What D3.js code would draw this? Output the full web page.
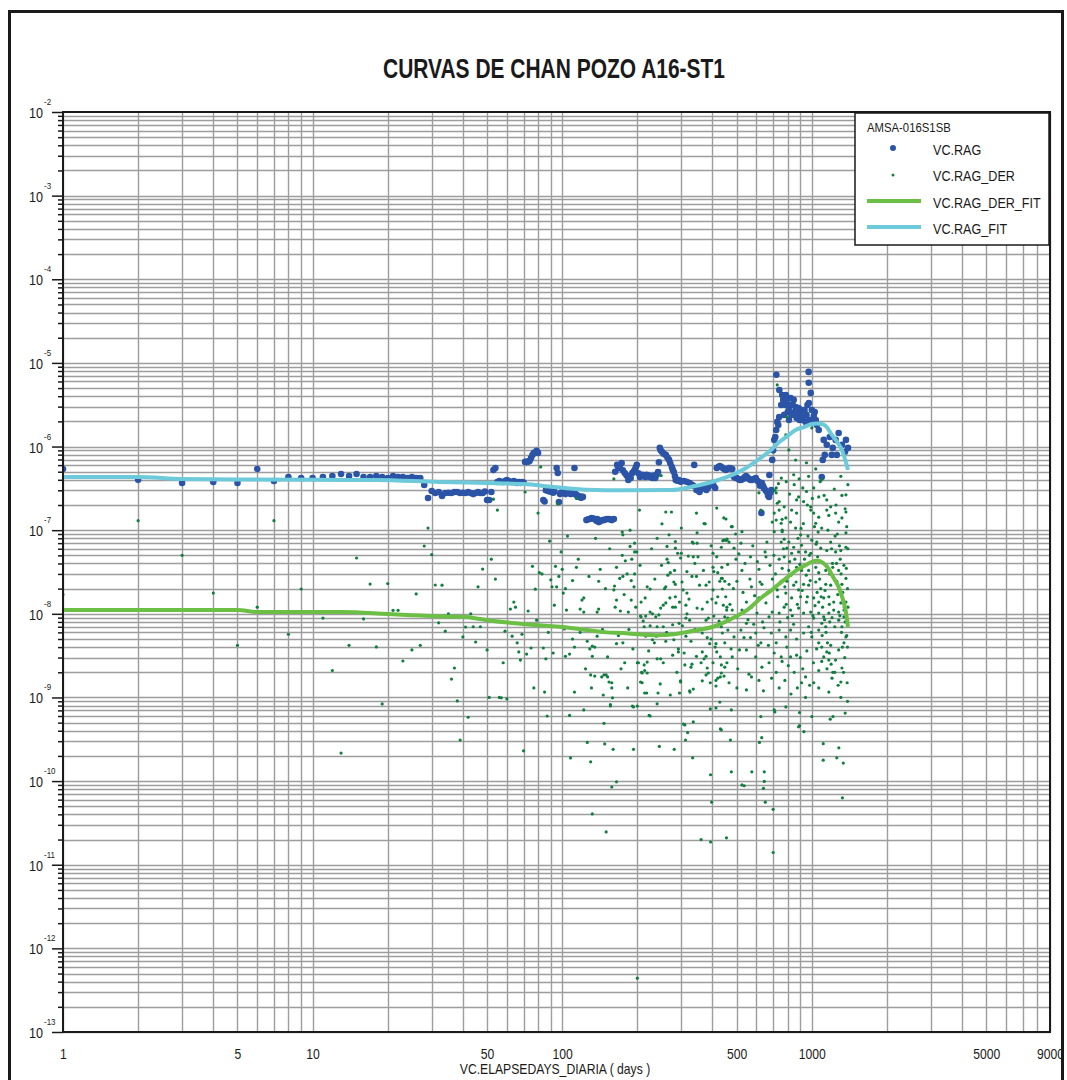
<!DOCTYPE html>
<html>
<head>
<meta charset="utf-8">
<script src="https://cdn.jsdelivr.net/npm/d3@7"></script>
<style>
  html, body { margin: 0; padding: 0; background: #ffffff; }
  svg { display: block; }
  text { font-family: "Liberation Sans", Arial, sans-serif; fill: #1a1a1a; }
</style>
</head>
<body>
<svg id="chart" width="1067" height="1080"></svg>
<script>
// ---- Labels ----
const chartTitle = "CURVAS DE CHAN POZO A16-ST1";
const xAxisTitle = "VC.ELAPSEDAYS_DIARIA ( days )";
const legendTitle = "AMSA-016S1SB";
const seriesNames = ["VC.RAG", "VC.RAG_DER", "VC.RAG_DER_FIT", "VC.RAG_FIT"];
const xTickValues = [1, 5, 10, 50, 100, 500, 1000, 5000, 9000];
const yTickExponents = [-2, -3, -4, -5, -6, -7, -8, -9, -10, -11, -12, -13];

// ---- VC.RAG : [elapsed days, RAG] ----
const ragPoints = [
[1,5.4e-7],[2,4.0e-7],[3,3.67e-7],[4,3.77e-7],[5,3.67e-7],[6,5.4e-7],[7,3.88e-7],[8,4.33e-7],[9,4.21e-7],[10,4.21e-7],
[11,4.33e-7],[12,4.45e-7],[13,4.7e-7],[14,4.45e-7],[15,4.7e-7],[16,4.33e-7],[17,4.33e-7],[18,4.45e-7],[19,4.33e-7],[20,4.21e-7],
[21,4.45e-7],[22,4.33e-7],[23,4.33e-7],[24,4.21e-7],[25,4.33e-7],[26,4.21e-7],[27,4.21e-7],[28,3.47e-7],[29,2.43e-7],[30,2.94e-7],
[31,2.78e-7],[32,2.86e-7],[33,2.57e-7],[34,2.78e-7],[35,2.8e-7],[36,2.78e-7],[37,2.86e-7],[38,2.86e-7],[39,2.78e-7],[40,2.8e-7],
[41,2.78e-7],[42,2.86e-7],[43,2.78e-7],[44,2.7e-7],[45,2.78e-7],[46,2.86e-7],[47,2.78e-7],[48,2.78e-7],[49,2.9e-7],[50,2.3e-7],
[51,2.3e-7],[52,2.86e-7],[53,5.25e-7],[54,5.55e-7],[55,3.77e-7],[56,3.88e-7],[57,3.77e-7],[58,3.77e-7],[59,3.88e-7],[60,3.98e-7],
[61,3.88e-7],[62,3.77e-7],[63,3.77e-7],[64,3.88e-7],[65,3.77e-7],[66,3.67e-7],[67,3.77e-7],[68,3.67e-7],[69,3.77e-7],[70,3.7e-7],
[71,6.55e-7],[72,6.55e-7],[73,6.6e-7],[74,6.73e-7],[75,7.31e-7],[76,7.9e-7],[77,8.4e-7],[79,8.88e-7],[80,8.4e-7],
[84,2.3e-7],[85,2.2e-7],[86,3.0e-7],[87,3.11e-7],[88,2.94e-7],[89,2.9e-7],[90,3.1e-7],[91,2.86e-7],[92,2.8e-7],[93,2.9e-7],
[95,5.55e-7],[96,4.83e-7],[97,2.17e-7],[98,2.7e-7],[99,2.8e-7],[100,2.86e-7],[101,2.9e-7],[102,2.78e-7],[103,2.7e-7],[104,2.78e-7],
[105,2.8e-7],[106,2.9e-7],[107,2.86e-7],[108,2.7e-7],[109,2.8e-7],[110,2.78e-7],[111,2.75e-7],[112,5.55e-7],[113,2.7e-7],[114,2.64e-7],
[115,2.6e-7],[116,2.55e-7],[117,2.5e-7],[118,2.5e-7],[119,2.45e-7],[120,2.5e-7],[121,2.5e-7],
[125,1.32e-7],[127,1.35e-7],[129,1.36e-7],[131,1.4e-7],[133,1.38e-7],[135,1.36e-7],[137,1.3e-7],[138,1.36e-7],[140,1.25e-7],[142,1.28e-7],
[145,1.32e-7],[147,1.32e-7],[149,1.34e-7],[151,1.36e-7],[154,1.36e-7],[156,1.34e-7],[158,1.32e-7],[161,1.36e-7],
[163,5.0e-7],[166,6.03e-7],[168,5.5e-7],[170,5.9e-7],[173,6.37e-7],[175,5.2e-7],[178,4.83e-7],[181,4.5e-7],[184,3.98e-7],[186,4.4e-7],
[188,4.2e-7],[191,4.83e-7],[193,5.0e-7],[195,5.2e-7],[197,5.6e-7],[199,6.03e-7],[202,4.8e-7],[205,4.33e-7],[208,4.5e-7],[210,4.6e-7],
[213,4.5e-7],[215,4.33e-7],[218,4.6e-7],[220,4.4e-7],[223,4.5e-7],[225,4.33e-7],[228,4.4e-7],[230,4.2e-7],[233,4.5e-7],[236,4.21e-7],
[239,4.6e-7],[242,4.97e-7],[244,6.5e-7],[246,9.63e-7],[248,9.0e-7],[251,8.64e-7],[255,8.2e-7],[260,7.95e-7],[264,7.4e-7],[268,6.92e-7],
[271,6.3e-7],[275,5.7e-7],[277,5.3e-7],[280,4.97e-7],[283,4.4e-7],[285,3.98e-7],[289,3.9e-7],[293,3.98e-7],[298,3.8e-7],[307,3.88e-7],
[315,3.8e-7],[324,3.67e-7],[332,3.47e-7],[335,3.4e-7],[338,6.03e-7],[345,3.02e-7],[350,3.0e-7],[355,2.86e-7],[360,3.1e-7],[364,3.29e-7],
[370,3.3e-7],[378,3.02e-7],[383,3.2e-7],[388,3.47e-7],[393,3.5e-7],[398,3.67e-7],[404,3.4e-7],[410,3.2e-7],[416,5.55e-7],[422,5.7e-7],
[428,5.86e-7],[434,5.7e-7],[440,5.55e-7],[446,5.4e-7],[452,5.25e-7],[459,5.4e-7],[466,5.55e-7],[473,5.5e-7],[480,5.4e-7],[488,4.33e-7],
[495,4.2e-7],[501,4.21e-7],[508,4.1e-7],[515,3.98e-7],[522,4.0e-7],[530,4.1e-7],[537,4.3e-7],[545,4.45e-7],[552,4.3e-7],[560,4.1e-7],
[567,4.0e-7],[575,3.98e-7],[585,4.1e-7],[596,4.21e-7],[605,3.9e-7],[614,3.77e-7],[620,3.4e-7],[628,1.61e-7],[631,3.67e-7],[637,3.4e-7],
[643,3.2e-7],[652,3.0e-7],[661,2.86e-7],[668,2.6e-7],[674,2.5e-7],[676,4.57e-7],[682,2.8e-7],[688,3.02e-7],[694,6.92e-7],[700,9.0e-7],
[707,1.2e-6],[714,1.3e-6],[720,1.58e-6],[721,7.21e-6],[727,1.97e-6],[734,1.81e-6],[740,2.26e-6],[741,4.75e-6],[754,3.14e-6],[761,4.14e-6],
[768,3.61e-6],[775,2.39e-6],[782,3.14e-6],[787,4.14e-6],[794,3.61e-6],[801,2.59e-6],[809,2.74e-6],[810,2.08e-6],[816,3.14e-6],[822,3.81e-6],
[830,2.39e-6],[838,3.14e-6],[846,3.61e-6],[853,2.59e-6],[861,2.97e-6],[869,2.2e-6],[877,2.52e-6],[885,2.89e-6],[893,2.08e-6],[902,2.39e-6],
[910,2.74e-6],[918,2.08e-6],[927,2.26e-6],[935,2.74e-6],[944,1.97e-6],[952,2.39e-6],[961,3.14e-6],[971,7.81e-6],[972,5.78e-6],[973,3.32e-6],
[980,2.08e-6],[990,4.38e-6],[1000,2.74e-6],[1009,1.97e-6],[1018,2.32e-6],[1027,2.59e-6],[1037,2.08e-6],[1047,1.81e-6],[1066,1.58e-6],
[1096,4.33e-7],[1106,6.92e-7],[1116,1.2e-6],[1127,7.95e-7],[1148,1.05e-6],[1180,1.3e-6],[1202,7.95e-7],[1213,9.63e-7],[1246,1.2e-6],
[1259,7.95e-7],[1281,1.45e-6],[1320,1.05e-6],[1358,8.64e-7],[1370,1.2e-6],[1396,9.63e-7]
];

// ---- VC.RAG_DER : [elapsed days, RAG derivative] ----
const ragDerPoints = [
[1,1.7e-8],[2,1.3e-7],[3,5.0e-8],[4,1.77e-8],[5,4.2e-9],[6,1.2e-8],[7,1.3e-7],[8,5.7e-9],[9,1.98e-8],[11,8.9e-9],
[12,2.1e-9],[13,2.16e-10],[14,4.2e-9],[15,4.65e-8],[16,8.7e-9],[17,2.27e-8],[18,4.02e-9],[19,8.36e-10],[20,2.3e-8],[21,1.1e-8],
[22,1.1e-8],[23,2.73e-9],[25,3.7e-9],[26,1.73e-8],[27,4.2e-9],[28,6.47e-8],[29,1.06e-7],[30,5.1e-8],[31,2.21e-8],[32,7.8e-9],
[33,2.2e-8],[34,6.2e-9],[35,1.0e-8],[36,1.66e-9],[37,2.25e-9],[38,9.1e-10],[39,3.1e-10],[40,5.3e-9],[41,6.96e-9],[42,5.8e-10],
[43,1.0e-8],[44,7.0e-9],[45,4.6e-9],[46,2.1e-8],[47,7.0e-9],[48,3.43e-8],[50,3.7e-9],[51,1.0e-9],[52,4.5e-8],[53,2.35e-7],
[54,2.6e-8],[55,1.74e-7],[56,1.0e-9],[57,9.9e-10],[58,2.6e-9],[59,6.2e-9],[60,9.6e-10],[62,1.14e-8],[63,5.4e-9],[64,1.38e-8],
[65,1.2e-8],[66,4.5e-9],[67,3.5e-9],[68,2.8e-9],[69,5.7e-9],[70,2.3e-10],[71,2.86e-7],[72,3.3e-9],[73,1.08e-8],[75,3.9e-9],
[76,3.7e-8],[77,1.3e-9],[78,1.97e-8],[79,8.4e-9],[80,1.6e-7],[81,3.1e-8],[82,5.7e-7],[83,3.0e-8],[84,3.9e-9],[85,1.16e-9],
[86,2.9e-9],[87,6.0e-10],[88,6.0e-9],[89,7.4e-8],[90,2.55e-8],[91,2.1e-8],[92,3.4e-9],[93,1.27e-8],[94,3.7e-8],[95,2.1e-8],
[96,2.06e-7],[97,2.8e-8],[99,5.5e-8],[100,3.4e-8],[101,1.77e-8],[102,6.6e-9],[103,2.0e-8],[103,3.1e-9],[104,1.11e-8],[105,8.5e-8],
[107,3.3e-9],[107,6.1e-10],[108,1.89e-10],[110,5.0e-9],[110,2.5e-8],[112,1.16e-9],[112,4.0e-9],[114,3.6e-8],[114,2.4e-7],[116,4.5e-8],
[118,1.14e-8],[118,6.0e-9],[120,1.46e-8],[122,1.55e-8],[122,1.05e-8],[122,7.1e-10],[124,2.2e-9],[126,4.7e-9],[126,2.9e-10],[128,2.8e-8],
[129,3.8e-9],[130,1.86e-9],[130,1.7e-10],[131,1.3e-9],[132,4.1e-9],[132,3.1e-9],[132,4.05e-11],[135,4.0e-9],[135,1.8e-9],[136,8.0e-8],
[138,1.05e-8],[138,5.4e-9],[140,2.45e-8],[140,1.14e-8],[142,3.4e-8],[144,1.76e-9],[145,6.5e-9],[146,1.07e-9],[147,1.86e-9],[147,4.9e-10],
[148,2.78e-10],[149,2.0e-8],[150,1.86e-9],[150,2.47e-11],[152,3.05e-9],[152,1.76e-9],[154,1.53e-9],[155,6.0e-8],[156,8.2e-10],[156,7.9e-10],
[158,1.3e-9],[158,1.5e-9],[158,8.5e-11],[159,9.9e-10],[160,2.4e-10],[161,4.1e-7],[161,1.93e-8],[162,2.15e-8],[163,1.2e-8],[165,3.6e-8],
[165,1.46e-8],[165,4.4e-9],[165,9.8e-11],[168,5.5e-9],[170,2.65e-8],[171,1.08e-8],[172,2.2e-9],[174,9.5e-8],[174,5.0e-8],[175,8.8e-8],
[175,2.8e-8],[175,4.5e-9],[177,1.7e-8],[178,2.6e-9],[179,4.3e-8],[182,3.0e-8],[183,1.3e-9],[184,1.05e-8],[185,6.5e-9],[187,1.0e-7],
[187,6.4e-8],[189,2.5e-8],[189,1.46e-8],[190,4.5e-8],[191,7.9e-10],[192,3.8e-9],[193,2.4e-10],[193,7.7e-10],[194,2.1e-8],[195,7.0e-8],
[195,5.5e-8],[195,3.0e-8],[197,1.2e-8],[199,5.5e-8],[200,2.6e-9],[200,7.9e-10],[200,4.4e-13],[202,2.6e-9],[204,1.74e-7],[205,3.8e-8],
[206,9.4e-9],[206,1.53e-9],[207,9.2e-9],[207,1.38e-8],[208,2.0e-9],[209,1.96e-9],[209,1.5e-9],[211,8.2e-9],[213,7.0e-9],[213,2.45e-9],
[214,1.13e-9],[214,2.1e-9],[215,1.55e-8],[216,9.4e-9],[216,5.4e-9],[218,1.13e-9],[219,2.1e-8],[219,2.65e-9],[219,1.96e-9],[222,3.6e-9],
[223,6.1e-10],[225,7.2e-9],[225,1.98e-8],[225,1.05e-8],[225,6.0e-10],[228,6.0e-8],[230,1.0e-8],[230,4.9e-9],[234,4.5e-9],[235,2.6e-8],
[237,9.2e-9],[238,5.4e-9],[240,8.0e-8],[240,7.0e-9],[240,2.9e-9],[240,8.4e-10],[242,1.13e-9],[244,9.7e-9],[245,2.6e-10],[247,1.45e-9],
[248,1.17e-8],[248,2.9e-9],[249,4.5e-7],[250,3.8e-8],[251,1.19e-7],[254,1.27e-8],[254,7.0e-9],[254,2.6e-9],[257,2.0e-8],[260,1.65e-7],
[260,2.1e-8],[260,1.35e-8],[260,4.7e-9],[262,6.0e-9],[263,6.4e-8],[263,4.5e-8],[265,2.9e-8],[266,4.1e-8],[268,8.8e-8],[270,1.55e-8],
[271,3.1e-8],[271,1.07e-9],[274,1.65e-7],[277,1.2e-8],[277,7.4e-9],[277,3.2e-9],[280,2.4e-8],[280,4.9e-9],[281,2.4e-10],[282,3.3e-8],
[284,7.3e-8],[284,6.1e-8],[284,2.25e-8],[284,1.6e-8],[284,1.2e-8],[288,2.0e-9],[290,5.3e-8],[292,3.8e-9],[292,3.5e-9],[294,7.7e-9],
[295,1.38e-8],[295,1.13e-9],[298,4.65e-8],[298,1.53e-9],[298,1.58e-9],[300,5.3e-8],[300,1.06e-7],[302,2.4e-8],[303,7.2e-9],[305,1.93e-8],
[306,4.8e-10],[308,3.4e-9],[310,2.45e-9],[310,4.7e-10],[312,3.1e-10],[313,1.27e-8],[313,8.9e-9],[313,5.4e-9],[316,3.2e-8],[316,1.77e-8],
[316,1.0e-8],[318,3.8e-10],[320,4.9e-8],[322,1.5e-8],[324,8.4e-9],[324,1.2e-9],[325,1.16e-9],[328,4.7e-9],[328,2.3e-9],[331,2.8e-8],
[331,2.5e-9],[332,7.2e-8],[333,1.9e-10],[335,4.8e-8],[335,7.0e-8],[335,1.26e-9],[335,5.1e-10],[340,4.0e-8],[340,6.5e-9],[345,1.6e-7],
[345,2.8e-8],[345,3.1e-9],[347,9.3e-8],[347,7.0e-8],[347,1.17e-8],[350,4.8e-8],[355,2.2e-8],[360,2.6e-9],[360,2.0e-11],[364,1.14e-8],
[364,5.9e-9],[364,3.5e-9],[364,1.58e-9],[368,3.3e-8],[370,1.2e-7],[370,2.9e-9],[374,1.19e-7],[377,2.2e-8],[377,8.4e-9],[377,3.1e-9],
[377,1.86e-9],[381,1.38e-8],[381,5.2e-9],[381,2.25e-9],[385,8.9e-9],[385,1.96e-9],[388,2.4e-8],[390,4.4e-9],[392,1.5e-9],[392,7.3e-10],
[393,1.19e-10],[393,1.87e-11],[395,5.0e-9],[395,6.5e-8],[397,5.6e-11],[398,1.5e-8],[402,5.3e-8],[402,3.6e-8],[402,1.93e-8],[402,2.6e-9],
[405,9.4e-9],[405,3.2e-8],[410,4.0e-9],[413,1.35e-8],[413,4.4e-9],[413,1.6e-9],[413,1.37e-9],[413,7.5e-10],[416,1.84e-7],[416,4.8e-8],
[416,3.5e-9],[420,3.1e-8],[420,1.7e-9],[420,1.6e-8],[425,8.2e-9],[428,2.45e-8],[428,8.8e-10],[430,3.05e-9],[430,1.76e-9],[430,4.2e-10],
[434,6.25e-8],[434,2.65e-8],[434,2.45e-9],[434,1.96e-9],[434,7.0e-9],[434,4.1e-10],[436,3.6e-8],[438,1.98e-8],[438,5.9e-9],[438,2.65e-8],
[440,7.5e-8],[442,1.27e-8],[444,7.6e-8],[444,1.4e-7],[445,1.8e-9],[448,2.45e-8],[448,9.2e-9],[448,4.5e-9],[448,2.3e-9],[452,1.6e-8],
[452,7.6e-8],[453,1.36e-7],[455,2.1e-11],[456,7.6e-8],[456,1.11e-8],[457,7.8e-8],[457,1.2e-8],[457,2.6e-9],[460,3.9e-8],[461,8.9e-9],
[461,6.4e-9],[466,7.2e-8],[466,2.25e-8],[466,1.5e-9],[470,1.3e-8],[472,3.1e-10],[475,3.8e-9],[476,1.29e-10],[476,7.1e-10],[476,1.1e-7],
[480,1.1e-7],[480,1.11e-8],[480,3.05e-9],[485,2.0e-8],[488,6.1e-8],[488,5.3e-9],[495,9.0e-8],[497,4.5e-8],[501,2.45e-8],[501,9.2e-9],
[501,1.3e-9],[505,2.2e-9],[510,5.2e-8],[513,3.7e-9],[520,7.0e-8],[520,6.4e-9],[525,3.3e-8],[525,1.11e-8],[525,9.6e-8],[525,9.0e-11],
[530,1.8e-8],[535,5.2e-9],[536,8.8e-11],[540,4.0e-8],[547,1.38e-8],[547,7.7e-9],[547,3.7e-9],[547,1.23e-9],[555,8.5e-9],[560,1.9e-9],
[565,2.6e-8],[568,4.8e-8],[568,5.2e-9],[573,2.1e-8],[573,1.2e-8],[573,1.76e-9],[575,1.29e-10],[580,6.5e-8],[585,7.5e-9],[590,1.65e-8],
[596,5.9e-9],[596,3.05e-9],[603,1.02e-8],[605,4.2e-8],[610,4.2e-9],[614,3.4e-8],[614,1.55e-8],[614,1.6e-9],[614,2.8e-7],[617,2.9e-10],
[620,2.4e-8],[625,4.5e-9],[625,5.9e-10],[625,1.74e-7],[630,3.3e-10],[631,2.25e-8],[631,2.3e-9],[635,8.0e-9],[640,8.2e-11],[640,1.2e-9],
[643,6.8e-9],[645,1.29e-10],[645,9.9e-11],[650,5.5e-8],[651,5.6e-11],[655,4.8e-8],[655,1.35e-8],[661,7.2e-8],[665,1.8e-8],[670,4.2e-9],
[674,9.2e-9],[674,2.6e-9],[680,3.8e-8],[688,5.9e-9],[690,1.7e-9],[694,1.25e-7],[694,1.05e-8],[695,2.6e-8],[700,4.6e-11],[700,1.4e-11],
[705,5.0e-8],[707,1.6e-7],[707,3.4e-9],[707,7.1e-10],[707,9.6e-8],[710,3.0e-7],[711,6.7e-10],[715,3.0e-8],[720,2.8e-7],[720,1.32e-7],
[720,4.5e-9],[720,3.2e-7],[720,2.0e-9],[727,2.1e-7],[727,1.93e-8],[727,5.45e-6],[730,1.6e-8],[735,3.6e-7],[740,1.74e-7],[740,4.5e-8],
[740,1.02e-8],[740,6.4e-9],[740,2.2e-7],[740,1.3e-9],[745,8.0e-9],[754,1.21e-7],[754,7.2e-8],[754,2.45e-8],[754,3.05e-9],[755,4.2e-7],
[760,1.35e-7],[760,2.7e-9],[761,9.6e-8],[761,3.5e-8],[761,1.0e-7],[770,6.0e-8],[775,7.8e-8],[775,4.8e-8],[775,1.2e-8],[775,1.9e-7],
[780,2.1e-8],[780,1.6e-9],[787,1.4e-7],[787,1.77e-8],[787,5.3e-9],[787,7.7e-10],[787,1.38e-6],[790,1.3e-8],[790,3.8e-7],[794,6.1e-8],
[794,2.45e-8],[794,4.0e-9],[794,2.26e-6],[800,9.0e-9],[805,2.4e-9],[809,7.2e-8],[809,3.3e-8],[809,9.1e-7],[815,4.2e-8],[815,2.7e-7],
[822,1.25e-7],[822,1.11e-8],[822,6.4e-9],[822,3.05e-9],[825,2.9e-8],[825,1.1e-9],[830,5.3e-8],[830,1.55e-8],[830,1.74e-7],[835,9.5e-9],
[845,7.5e-9],[846,6.25e-8],[846,2.2e-8],[846,4.6e-7],[850,2.0e-9],[850,3.5e-7],[855,4.5e-8],[861,1.06e-7],[861,6.9e-7],[865,2.4e-8],
[869,1.6e-7],[869,2.3e-7],[869,3.6e-8],[869,5.0e-9],[869,3.2e-9],[875,1.3e-8],[875,1.3e-9],[880,8.0e-8],[885,5.5e-8],[885,1.93e-8],
[885,1.17e-8],[885,4.45e-10],[885,2.5e-7],[890,4.1e-7],[893,6.6e-10],[893,4.6e-10],[895,3.9e-8],[900,3.0e-9],[902,8.8e-8],[902,1.6e-8],
[905,1.05e-7],[910,6.6e-8],[910,3.3e-8],[910,1.5e-9],[915,1.9e-8],[920,2.2e-9],[920,3.2e-7],[925,1.2e-7],[927,2.25e-8],[927,1.02e-8],
[927,5.9e-9],[927,2.2e-7],[930,3.9e-10],[935,4.5e-8],[944,5.5e-8],[944,1.76e-9],[944,1.0e-9],[950,2.9e-8],[952,2.9e-7],[952,1.38e-8],
[952,6.4e-7],[955,3.6e-9],[960,1.6e-8],[960,2.0e-7],[965,8.5e-8],[971,3.3e-8],[971,2.2e-8],[971,7.0e-9],[971,4.4e-7],[978,5.0e-8],
[980,1.4e-9],[985,2.5e-8],[990,1.9e-7],[990,5.3e-8],[990,1.05e-8],[990,1.74e-7],[995,6.0e-9],[1000,7.6e-8],[1000,5.3e-9],[1000,5.9e-10],
[1000,1.67e-6],[1005,2.4e-7],[1010,9.5e-9],[1015,2.6e-9],[1018,1.6e-7],[1018,1.55e-8],[1018,8.9e-9],[1018,1.5e-9],[1018,3.2e-7],[1025,1.1e-7],
[1030,1.25e-8],[1037,1.21e-7],[1037,3.6e-8],[1037,2.4e-8],[1037,5.4e-7],[1040,6.8e-8],[1045,3.8e-9],[1047,7.2e-8],[1050,1.8e-8],[1055,4.8e-8],
[1060,9.5e-8],[1066,1.43e-7],[1066,3.1e-8],[1066,1.38e-8],[1066,1.02e-8],[1066,6.4e-9],[1066,4.5e-9],[1066,2.1e-9],[1066,1.3e-9],[1066,2.5e-7],
[1075,2.6e-8],[1080,3.8e-7],[1086,6.1e-8],[1086,2.0e-8],[1090,1.6e-8],[1096,1.06e-7],[1096,7.7e-9],[1096,4.0e-9],[1096,2.7e-9],[1096,4.0e-7],
[1100,5.5e-9],[1105,1.2e-8],[1111,2.8e-10],[1111,1.78e-10],[1116,1.55e-8],[1116,9.2e-9],[1116,3.05e-9],[1120,2.6e-7],[1125,8.5e-9],[1130,1.9e-8],
[1137,3.3e-8],[1137,2.25e-8],[1137,7.0e-9],[1140,6.0e-9],[1148,2.3e-7],[1148,5.7e-8],[1148,3.5e-9],[1148,1.74e-7],[1150,2.2e-9],[1155,4.5e-9],
[1160,1.0e-7],[1170,1.5e-7],[1170,1.6e-8],[1170,1.02e-8],[1170,2.8e-9],[1170,1.16e-9],[1175,3.4e-9],[1175,1.3e-8],[1180,3.0e-8],[1180,8.0e-9],
[1185,5.5e-10],[1190,7.2e-8],[1190,2.2e-8],[1190,4.2e-9],[1190,1.9e-7],[1195,2.5e-9],[1200,6.0e-8],[1205,1.7e-9],[1205,9.0e-9],[1210,4.0e-8],
[1213,3.6e-8],[1213,2.0e-9],[1216,5.9e-10],[1224,1.38e-8],[1224,1.11e-8],[1230,3.1e-7],[1236,7.0e-9],[1236,2.0e-9],[1240,8.5e-8],[1245,2.8e-9],
[1246,1.6e-7],[1246,5.5e-8],[1250,2.0e-7],[1255,4.0e-8],[1259,2.45e-8],[1259,1.9e-10],[1265,9.0e-8],[1270,1.7e-8],[1275,1.4e-9],[1281,1.25e-7],
[1281,3.3e-8],[1281,1.05e-8],[1281,8.4e-9],[1281,3.7e-9],[1283,2.5e-10],[1290,6.5e-8],[1295,9.5e-9],[1300,4.5e-8],[1307,5.7e-8],[1307,1.35e-8],
[1307,1.53e-9],[1307,1.0e-9],[1307,4.4e-7],[1310,3.0e-8],[1315,6.0e-9],[1320,2.6e-7],[1320,2.25e-8],[1320,7.0e-9],[1320,2.25e-9],[1320,1.4e-7],
[1325,4.0e-9],[1326,6.3e-11],[1330,1.8e-8],[1337,1.64e-10],[1340,2.0e-9],[1345,3.8e-8],[1345,1.11e-8],[1345,9.2e-9],[1345,4.5e-9],[1350,1.2e-8],
[1355,3.0e-9],[1360,8.0e-9],[1360,1.8e-7],[1360,6.5e-10],[1370,1.65e-7],[1370,9.3e-8],[1370,6.25e-8],[1370,2.65e-8],[1370,1.38e-8],[1370,5.3e-9],
[1370,2.65e-7],[1375,3.5e-8],[1380,5.5e-9],[1380,1.1e-7],[1385,1.5e-9],[1390,4.0e-9],[1390,2.0e-8],[1390,9.0e-10],[1395,1.2e-8],[1395,6.0e-8],
[1395,3.5e-7]
];

// ---- VC.RAG_FIT ----
const ragFit = [
[1,4.33e-7],[2,4.33e-7],[3,4.1e-7],[5,4.05e-7],[10,4.0e-7],[18,3.98e-7],[32,3.77e-7],[50,3.67e-7],[70,3.57e-7],[92,3.29e-7],
[125,3.05e-7],[180,3.0e-7],[275,3.02e-7],[330,3.3e-7],[398,3.77e-7],[470,4.45e-7],[545,5.55e-7],[631,7.5e-7],[690,9.2e-7],[740,1.13e-6],
[800,1.34e-6],[861,1.58e-6],[930,1.71e-6],[1000,1.86e-6],[1050,1.88e-6],[1096,1.86e-6],[1150,1.7e-6],[1190,1.45e-6],[1260,1.15e-6],[1320,9.1e-7],
[1360,7.0e-7],[1396,5.25e-7]
];

// ---- VC.RAG_DER_FIT ----
const ragDerFit = [
[1,1.11e-8],[5,1.11e-8],[6,1.05e-8],[13,1.05e-8],[20,9.95e-9],[24,9.7e-9],[30,9.4e-9],[40,9.2e-9],[50,8.4e-9],[65,7.7e-9],
[80,7.3e-9],[100,6.96e-9],[125,6.4e-9],[150,6.0e-9],[175,5.9e-9],[200,5.7e-9],[240,5.55e-9],[280,5.7e-9],[310,6.0e-9],[350,6.4e-9],
[400,6.96e-9],[450,8.0e-9],[500,9.4e-9],[550,1.11e-8],[631,1.58e-8],[700,1.98e-8],[746,2.33e-8],[800,2.75e-8],[873,3.35e-8],[940,3.8e-8],
[1000,4.17e-8],[1050,4.3e-8],[1109,4.06e-8],[1160,3.55e-8],[1217,2.75e-8],[1280,2.1e-8],[1334,1.46e-8],[1370,1.05e-8],[1396,6.96e-9]
];

// ---- Colours ----
const colRag = "#2b54a7";
const colRagDer = "#0f7e3e";
const colDerFit = "#6cbf45";
const colRagFit = "#6ccadb";
const NARROW = 0.84; // horizontal squeeze for the narrow label face

const svg = d3.select("#chart");

// outer frame
svg.append("rect")
  .attr("x", 9.5).attr("y", 11.5).attr("width", 1053).attr("height", 1100)
  .attr("fill", "none").attr("stroke", "#1a1a1a").attr("stroke-width", 3);

const plot = { left: 63, right: 1050, top: 112, bottom: 1032 };
const x = d3.scaleLog().domain([1, 9000]).range([plot.left, plot.right]);
const y = d3.scaleLog().domain([1e-13, 1e-2]).range([plot.bottom, plot.top]);

// narrow text helper: positions via translate, squeezes horizontally
function narrowText(parent, px, py, str, size, anchor) {
  return parent.append("text")
    .attr("transform", `translate(${px},${py}) scale(${NARROW},1)`)
    .attr("text-anchor", anchor || "start")
    .attr("font-size", size)
    .text(str);
}

// grid values: every 1..9 multiple of each decade
const xGrid = [];
for (let e = 0; e <= 3; e++) for (let m = 1; m <= 9; m++) { const v = m * Math.pow(10, e); if (v <= 9000) xGrid.push(v); }
const yGrid = [], yMinor = [];
for (let e = -13; e <= -3; e++) for (let m = 1; m <= 9; m++) { const v = m * Math.pow(10, e); yGrid.push(v); if (m > 1) yMinor.push(v); }
const yMajor = yTickExponents.map(e => Math.pow(10, e));

const grid = svg.append("g").attr("stroke", "#9d9d9d").attr("stroke-width", 1.4);
grid.selectAll("line.gx").data(xGrid).join("line")
  .attr("x1", d => Math.round(x(d)) + 0.5).attr("x2", d => Math.round(x(d)) + 0.5)
  .attr("y1", plot.top).attr("y2", plot.bottom);
grid.selectAll("line.gy").data(yGrid).join("line")
  .attr("y1", d => Math.round(y(d)) + 0.5).attr("y2", d => Math.round(y(d)) + 0.5)
  .attr("x1", plot.left).attr("x2", plot.right);

// y axis ticks
const yAxisMajor = d3.axisLeft(y).tickValues(yMajor).tickSize(11).tickFormat("");
const yAxisMinor = d3.axisLeft(y).tickValues(yMinor).tickSize(5).tickFormat("");
svg.append("g").attr("transform", `translate(${plot.left},0)`).call(yAxisMajor)
  .call(g => g.select(".domain").remove())
  .selectAll("line").attr("stroke", "#1a1a1a").attr("stroke-width", 1.5);
svg.append("g").attr("transform", `translate(${plot.left},0)`).call(yAxisMinor)
  .call(g => g.select(".domain").remove())
  .selectAll("line").attr("stroke", "#1a1a1a").attr("stroke-width", 1.5);

// y labels 10^n
const yl = svg.append("g");
yTickExponents.forEach(e => {
  const py = y(Math.pow(10, e));
  narrowText(yl, 43, py + 6, "10", 15, "end");
  narrowText(yl, 44, py - 7, String(e), 9.5, "start");
});

// x axis labels
const xAxis = d3.axisBottom(x).tickValues(xTickValues).tickSize(0).tickPadding(0).tickFormat(d3.format("d"));
svg.append("g").attr("transform", `translate(0,${plot.bottom})`).call(xAxis)
  .call(g => g.select(".domain").remove())
  .selectAll("text").attr("font-size", 14.5).attr("dy", null).attr("y", 27)
  .attr("transform", `scale(${NARROW},1)`)
  .attr("font-family", "'Liberation Sans',Arial,sans-serif")
  .attr("fill", "#1a1a1a");

narrowText(svg, 555, 1074, xAxisTitle, 14.5, "middle");

// title
svg.append("text").attr("x", 554).attr("y", 78).attr("text-anchor", "middle")
  .attr("font-size", 27).attr("font-weight", "bold")
  .attr("textLength", 342).attr("lengthAdjust", "spacingAndGlyphs")
  .text(chartTitle);

// data layer clipped to the plot area
svg.append("clipPath").attr("id", "plotClip").append("rect")
  .attr("x", plot.left).attr("y", plot.top).attr("width", plot.right - plot.left).attr("height", plot.bottom - plot.top);
const data = svg.append("g").attr("clip-path", "url(#plotClip)");

data.append("g").selectAll("circle").data(ragPoints).join("circle")
  .attr("cx", d => x(d[0])).attr("cy", d => y(d[1])).attr("r", 3.3).attr("fill", colRag);

data.append("g").selectAll("circle").data(ragDerPoints).join("circle")
  .attr("cx", d => x(d[0])).attr("cy", d => y(d[1])).attr("r", 1.6).attr("fill", colRagDer);

const line = d3.line().x(d => x(d[0])).y(d => y(d[1])).curve(d3.curveMonotoneX);
data.append("path").datum(ragDerFit).attr("d", line)
  .attr("fill", "none").attr("stroke", colDerFit).attr("stroke-width", 4);
data.append("path").datum(ragFit).attr("d", line)
  .attr("fill", "none").attr("stroke", colRagFit).attr("stroke-width", 4);

// plot border
svg.append("rect").attr("x", plot.left).attr("y", plot.top)
  .attr("width", plot.right - plot.left).attr("height", plot.bottom - plot.top)
  .attr("fill", "none").attr("stroke", "#1a1a1a").attr("stroke-width", 2);

// legend
const lg = svg.append("g");
lg.append("rect").attr("x", 855).attr("y", 113).attr("width", 194).attr("height", 132)
  .attr("fill", "#ffffff").attr("stroke", "#1a1a1a").attr("stroke-width", 1.5);
narrowText(lg, 867, 132, legendTitle, 13.5, "start");
const rowY = [150, 176, 203, 229];
lg.append("circle").attr("cx", 893).attr("cy", rowY[0] - 2).attr("r", 3).attr("fill", colRag);
lg.append("circle").attr("cx", 893).attr("cy", rowY[1] - 1).attr("r", 1.5).attr("fill", colRagDer);
lg.append("line").attr("x1", 867).attr("x2", 921).attr("y1", rowY[2] - 2).attr("y2", rowY[2] - 2)
  .attr("stroke", colDerFit).attr("stroke-width", 4);
lg.append("line").attr("x1", 867).attr("x2", 921).attr("y1", rowY[3] - 2).attr("y2", rowY[3] - 2)
  .attr("stroke", colRagFit).attr("stroke-width", 4);
seriesNames.forEach((name, i) => narrowText(lg, 933, rowY[i] + 5, name, 15, "start"));
</script>
</body>
</html>
